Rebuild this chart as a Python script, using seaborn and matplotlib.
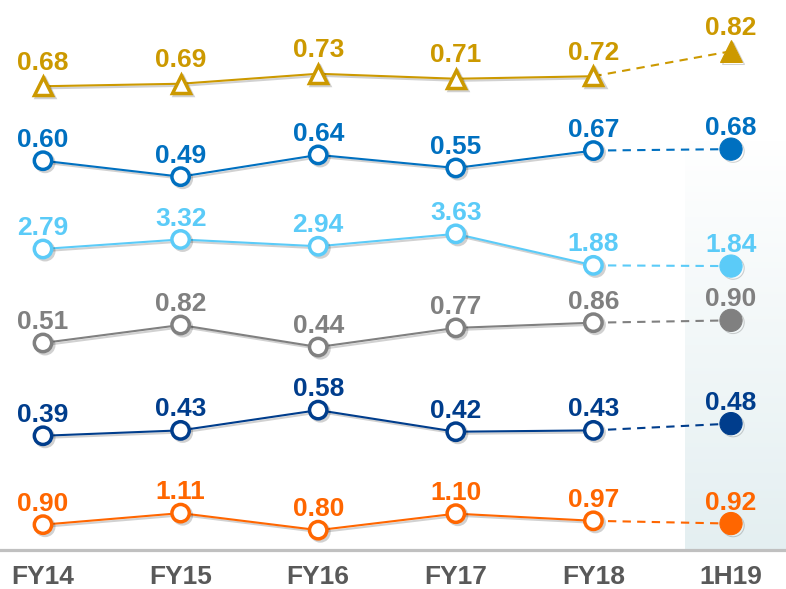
import numpy as np
import seaborn as sns
import matplotlib.pyplot as plt
import matplotlib.patheffects as pe
from matplotlib.colors import LinearSegmentedColormap

periods = ['FY14', 'FY15', 'FY16', 'FY17', 'FY18', '1H19']

gold_vals = [0.68, 0.69, 0.73, 0.71, 0.72, 0.82]
blue_vals = [0.60, 0.49, 0.64, 0.55, 0.67, 0.68]
sky_vals = [2.79, 3.32, 2.94, 3.63, 1.88, 1.84]
grey_vals = [0.51, 0.82, 0.44, 0.77, 0.86, 0.90]
navy_vals = [0.39, 0.43, 0.58, 0.42, 0.43, 0.48]
orange_vals = [0.90, 1.11, 0.80, 1.10, 0.97, 0.92]

# values, colour, marker, row centre (px from top), px per unit
rows = [
    (gold_vals, '#CC9900', '^', 75, 250),
    (blue_vals, '#0070C0', 'o', 160, 145),
    (sky_vals, '#5BCBF8', 'o', 250, 18),
    (grey_vals, '#808080', 'o', 331, 58),
    (navy_vals, '#003D8C', 'o', 427, 135),
    (orange_vals, '#FF6600', 'o', 521, 55),
]

sns.set_style('white')
plt.rcParams['font.family'] = ['Liberation Sans', 'DejaVu Sans']

W, H = 786, 589
fig = plt.figure(figsize=(W / 100, H / 100), dpi=100)

step = 137.6
xlim = (-43 / step, 5 + 55 / step)
x = np.arange(len(periods))

# background axes: bottom rule, tick labels, shaded forecast column
base_px = 550
bg = fig.add_axes([0, (H - base_px) / H, 1, base_px / H])
for s in ['top', 'left', 'right']:
    bg.spines[s].set_visible(False)
bg.spines['bottom'].set_color('#C0C0C0')
bg.spines['bottom'].set_linewidth(2.3)
bg.set_yticks([])
bg.set_xticks(x)
bg.set_xticklabels(periods, fontsize=19, fontweight='bold', color='#595959')
bg.tick_params(axis='x', length=0, pad=11)
shade = LinearSegmentedColormap.from_list('shade', ['#FFFFFF', '#E4EFF1'])
grad = np.linspace(0, 1, 256).reshape(-1, 1)
bg.imshow(grad, cmap=shade, aspect='auto', origin='upper',
          extent=[(685 - 43) / step, xlim[1], base_px, 140], zorder=0)
bg.set_xlim(xlim)
bg.set_ylim(base_px, 0)

shadow = [pe.SimpleLineShadow(offset=(1.5, -1.5), shadow_color='black', alpha=0.18), pe.Normal()]
band = 80

for vals, col, mk, cpx, ppu in rows:
    ax = fig.add_axes([0, (H - cpx - band / 2) / H, 1, band / H])
    ax.patch.set_alpha(0)
    ax.axis('off')
    cv = np.mean(vals)
    ax.set_xlim(xlim)
    ax.set_ylim(cv - band / 2 / ppu, cv + band / 2 / ppu)

    ms_open = 13 if mk == '^' else 12.5
    ms_fill = 16

    sns.lineplot(x=x[4:], y=vals[4:], ax=ax, color=col, lw=1.5,
                 linestyle=(0, (4, 3)), zorder=2)
    sns.lineplot(x=x[:5], y=vals[:5], ax=ax, color=col, lw=1.5, marker=mk,
                 markersize=ms_open, markerfacecolor='white', markeredgecolor=col,
                 markeredgewidth=2.5, clip_on=False, zorder=3, path_effects=shadow)
    sns.lineplot(x=x[5:], y=vals[5:], ax=ax, color=col, lw=0, marker=mk,
                 markersize=ms_fill, markerfacecolor=col, markeredgecolor=col,
                 clip_on=False, zorder=3, path_effects=shadow)

    off = 12 if mk == '^' else 10
    for xi, v in zip(x, vals):
        ax.annotate(f'{v:.2f}', (xi, v), xytext=(0, off), textcoords='offset points',
                    ha='center', va='baseline', fontsize=19, fontweight='bold',
                    color=col, annotation_clip=False)

plt.savefig('out.png', dpi=100)
